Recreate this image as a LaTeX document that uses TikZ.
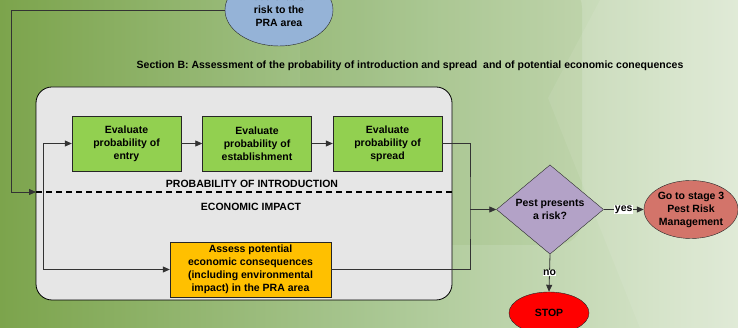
\documentclass[tikz,border=0pt]{standalone}
\usepackage{fontspec}
\setmainfont{Liberation Sans}
\usetikzlibrary{shapes.geometric,arrows.meta}
\definecolor{bgleft}{RGB}{124,164,76}
\definecolor{bgmid}{RGB}{168,198,145}
\definecolor{bgright}{RGB}{222,233,212}
\definecolor{boxgray}{RGB}{230,230,230}
\definecolor{boxgreen}{RGB}{146,208,80}
\definecolor{boxorange}{RGB}{255,192,0}
\definecolor{pestblue}{RGB}{149,179,215}
\definecolor{decisionlilac}{RGB}{179,162,199}
\definecolor{stagered}{RGB}{211,116,106}
\begin{document}
\begin{tikzpicture}[x=1pt, y=1pt, font=\fontsize{10.5}{13}\selectfont\bfseries,
  evalbox/.style={draw=black!85, fill=boxgreen, minimum width=109, minimum height=55, align=center, inner sep=1pt},
  arr/.style={-{Triangle[length=7pt,width=6pt]}},
  flow/.style={draw=black!80, line width=0.8pt}]
  % background
  \useasboundingbox (0,0) rectangle (738,328);
  \shade[left color=bgleft, right color=bgright, middle color=bgmid] (0,0) rectangle (738,328);
  \fill[bgleft, opacity=0.12, rounded corners=25] (300,83) rectangle (582,345);
  \fill[white, opacity=0.08] (600,328) -- (740,328) -- (740,0) -- (640,0) -- (548,230) -- cycle;
  % top of stage 2
  \node[ellipse, draw=black!85, fill=pestblue, minimum width=108, minimum height=72, align=center, inner sep=0pt] (pest) at (279,318) {could be a\\risk to the\\PRA area};
  \node (sectionB) at (410,262) {Section B: Assessment of the probability of introduction and spread\ \ and of potential economic conequences};
  % section B panel
  \draw[black, line width=0.8pt, fill=boxgray, rounded corners=16] (36,28) rectangle (452,241);
  \node[evalbox] (entry) at (126.5,184.5) {Evaluate\\probability of\\entry};
  \node[evalbox] (establish) at (257,184.5) {Evaluate\\probability of\\establishment};
  \node[evalbox] (spread) at (387.5,184.5) {Evaluate\\probability of\\spread};
  \draw[black, line width=1.2pt, dash pattern=on 6pt off 4pt] (36,136) -- (452,136);
  \node[anchor=south] (introduction) at (252,136.5) {PROBABILITY OF INTRODUCTION};
  \node (impact) at (251,121) {ECONOMIC IMPACT};
  \node[draw=black!85, fill=boxorange, minimum width=161, minimum height=55, align=center, inner sep=1pt] (consequences) at (250.5,58.5) {Assess potential\\economic consequences\\(including environmental\\impact) in the PRA area};
  % decision
  \node[diamond, draw=black!85, fill=decisionlilac, minimum width=107, minimum height=65, inner sep=0pt, align=center] (risk) at (550,118.5) {Pest presents\\a risk?};
  \node[ellipse, draw=black!85, fill=stagered, minimum width=94, minimum height=58, inner sep=0pt, align=center] (stage3) at (691,118.5) {Go to stage 3\\Pest Risk\\Management};
  \node[ellipse, draw=black!85, fill=red, minimum width=80, minimum height=42] (stop) at (549,15) {STOP};
  % connectors
  \coordinate (outer) at (11,136);
  \coordinate (inner) at (43,184.5);
  \coordinate (loop) at (470,118.5);
  \draw[flow, arr] (pest.west) -| (outer) -- (36,136);
  \draw[flow, arr] (entry.east) -- (establish.west);
  \draw[flow, arr] (establish.east) -- (spread.west);
  \draw[flow, arr] (inner) -- (entry.west);
  \draw[flow, arr] (inner) |- (consequences.west);
  \draw[flow] (spread.east) -| (loop) |- (consequences.east);
  \draw[flow, arr] (loop) -- (risk.west);
  \draw[flow, arr] (risk.east) -- node[fill=white, inner sep=0.5pt] {yes} (stage3.west);
  \draw[flow, arr] (risk.south) -- node[fill=white, inner sep=0.5pt] {no} (stop.north);
\end{tikzpicture}
\end{document}
